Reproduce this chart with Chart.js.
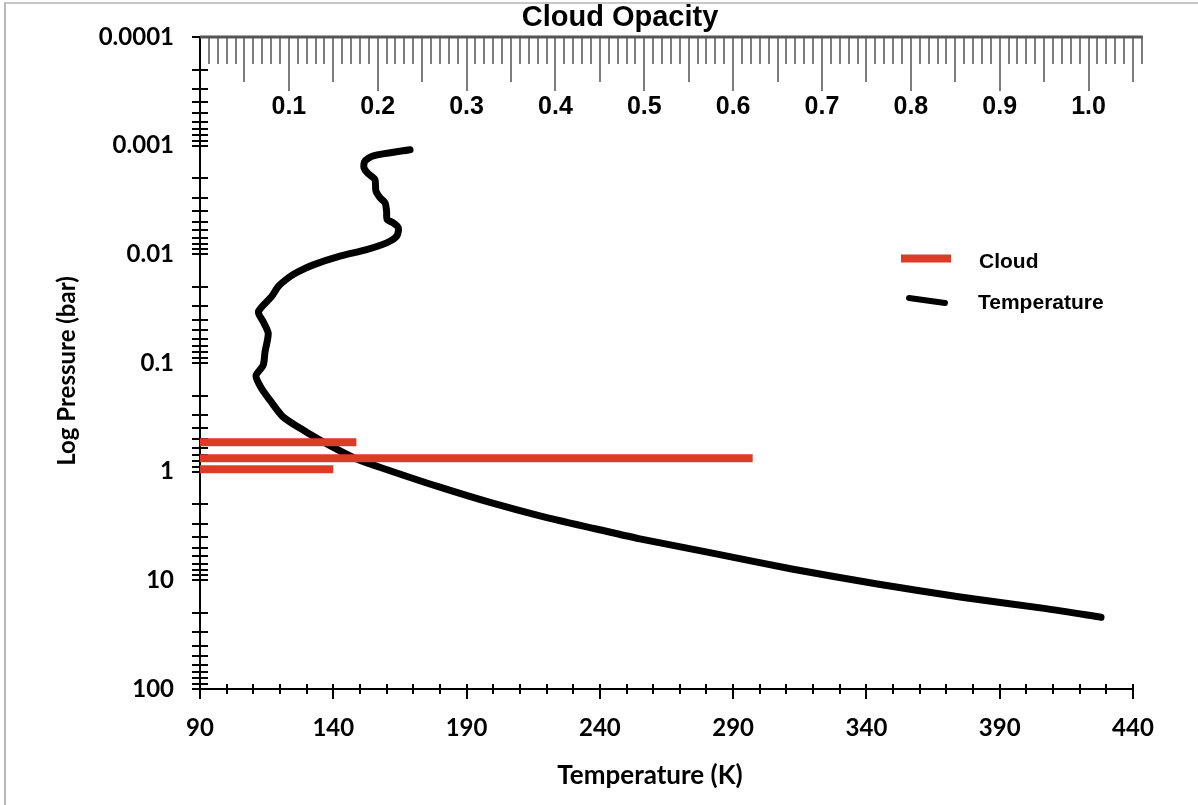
<!DOCTYPE html>
<html><head><meta charset="utf-8">
<script src="https://cdn.jsdelivr.net/npm/chart.js@4.4.1/dist/chart.umd.min.js"></script>
<style>
html,body{margin:0;padding:0;background:#fff;}
#wrap{position:relative;width:1198px;height:805px;overflow:hidden;background:#fff;}
#frame{position:absolute;left:4px;top:2px;right:-10px;bottom:-10px;border-top:2px solid #c8c8c8;border-left:2px solid #b8b8b8;pointer-events:none;}
canvas{position:absolute;left:0;top:0;}
</style></head><body>
<div id="wrap"><canvas id="c" width="1198" height="805"></canvas><div id="frame"></div></div>
<script>
// ---- Data ----
const temperatureK = [168.8,155,151.9,151.5,153.1,155.6,156,157.5,159.4,160,160.2,162.5,164.4,163.8,160,152.5,142.5,132.5,126.9,123.8,119.4,116.9,111.9,113.7,115.6,114.4,113.7,111,113.1,116.3,121.2,130,138.8,148.8,161.3,180,198.8,217.5,236.3,255,280.8,312.5,344.1,375.8,407.4,428];
const pressureBar = [0.00109,0.00124,0.00138,0.00159,0.00181,0.00204,0.00261,0.00301,0.00335,0.0040,0.00479,0.00513,0.0057,0.00681,0.00785,0.00906,0.0104,0.0125,0.0144,0.016,0.0197,0.0244,0.0337,0.0416,0.0533,0.0787,0.105,0.131,0.172,0.221,0.314,0.433,0.575,0.764,0.98,1.39,1.92,2.55,3.27,4.15,5.53,7.9,10.8,14.3,18.2,21.9];

const cloudPressure = [0.535, 0.753, 0.95];
const cloudOpacity  = [0.176, 0.622, 0.150];

const tempTicks = [90,140,190,240,290,340,390,440];
const tempLabels = ['90','140','190','240','290','340','390','440'];
const pressureTicks = [0.0001,0.001,0.01,0.1,1,10,100];
const pressureLabels = ['0.0001','0.001','0.01','0.1','1','10','100'];
const opacityTicks = [0.1,0.2,0.3,0.4,0.5,0.6,0.7,0.8,0.9,1.0];
const opacityLabels = ['0.1','0.2','0.3','0.4','0.5','0.6','0.7','0.8','0.9','1.0'];

const seriesNames = ['Cloud','Temperature'];
const axisTitles = { x: 'Temperature (K)', y: 'Log Pressure (bar)', top: 'Cloud Opacity' };
const CLOUD_COLOR = '#DC3B28';
const TEMP_COLOR = '#000000';

const calibriLike = 'Lato, "Open Sans", sans-serif';
const arialLike = '"Liberation Sans", Arial, sans-serif';

// ---- Datasets ----
const cloudDatasets = cloudPressure.map((p, i) => ({
  label: seriesNames[0],
  data: [{x: 0, y: p}, {x: cloudOpacity[i], y: p}],
  xAxisID: 'x2', yAxisID: 'y',
  borderColor: CLOUD_COLOR, borderWidth: 8, borderCapStyle: 'butt',
  pointRadius: 0, tension: 0, fill: false
}));
const tempDataset = {
  label: seriesNames[1],
  data: temperatureK.map((t, i) => ({x: t, y: pressureBar[i]})),
  xAxisID: 'x', yAxisID: 'y',
  borderColor: TEMP_COLOR, borderWidth: 7, borderCapStyle: 'round', borderJoinStyle: 'round',
  pointRadius: 0, tension: 0.25, fill: false
};

// ---- Plugins ----
function seg(ctx, x1, y1, x2, y2) { ctx.beginPath(); ctx.moveTo(x1, y1); ctx.lineTo(x2, y2); ctx.stroke(); }

const axisTicks = {
  id: 'axisTicks',
  beforeDatasetsDraw(chart) {
    const ctx = chart.ctx, a = chart.chartArea;
    const {x, y, x2} = chart.scales;
    ctx.save();
    ctx.lineCap = 'butt';
    // left log axis ticks (crossing the axis)
    ctx.strokeStyle = '#000'; ctx.lineWidth = 2;
    for (let d = -4; d <= 2; d++) {
      for (let m = 1; m <= 9; m++) {
        const v = m * Math.pow(10, d);
        if (v > 100 * 1.0001) break;
        const py = Math.round(y.getPixelForValue(v));
        seg(ctx, a.left - 8, py, a.left + 8, py);
      }
    }
    // bottom temperature ticks
    for (let t = 90; t <= 440; t += 10) {
      const px = Math.round(x.getPixelForValue(t));
      const major = (t - 90) % 50 === 0;
      seg(ctx, px, a.bottom - 5, px, a.bottom + (major ? 10 : 5));
    }
    // top opacity ticks hanging downwards
    ctx.strokeStyle = '#7d7d7d'; ctx.lineWidth = 2;
    for (let i = 1; i <= 106; i++) {
      const px = Math.round(x2.getPixelForValue(i / 100));
      const len = i % 10 === 0 ? 54 : (i % 5 === 0 ? 45 : 27);
      seg(ctx, px, a.top, px, a.top + len);
    }
    ctx.strokeStyle = '#555'; ctx.lineWidth = 3;
    seg(ctx, a.left, a.top, x2.getPixelForValue(1.06) + 1, a.top);
    ctx.restore();
  },
  afterDraw(chart) {
    const ctx = chart.ctx;
    ctx.save();
    ctx.fillStyle = '#000';
    ctx.textAlign = 'center'; ctx.textBaseline = 'middle';
    // axis titles
    ctx.font = 'bold 26px ' + calibriLike;
    ctx.fillText(axisTitles.x, 650, 776);
    ctx.save();
    ctx.translate(67, 371);
    ctx.rotate(-Math.PI / 2);
    ctx.font = 'bold 24px ' + calibriLike;
    ctx.fillText(axisTitles.y, 0, 0);
    ctx.restore();
    // legend
    ctx.lineCap = 'butt';
    ctx.strokeStyle = CLOUD_COLOR; ctx.lineWidth = 8;
    seg(ctx, 901, 258.5, 951, 258.5);
    ctx.lineCap = 'round';
    ctx.strokeStyle = TEMP_COLOR; ctx.lineWidth = 6;
    seg(ctx, 909, 298, 945, 303);
    ctx.font = 'bold 21px ' + arialLike;
    ctx.textAlign = 'left';
    ctx.fillText(seriesNames[0], 979, 262);
    ctx.fillText(seriesNames[1], 978, 303);
    ctx.restore();
  }
};

new Chart(document.getElementById('c'), {
  type: 'line',
  data: { datasets: [...cloudDatasets, tempDataset] },
  options: {
    responsive: false, animation: false, devicePixelRatio: 1,
    layout: { padding: { left: 42, right: 0, top: 0, bottom: 0 } },
    plugins: {
      legend: { display: false },
      tooltip: { enabled: false },
      title: {
        display: true, text: axisTitles.top, color: '#000',
        font: { family: arialLike, size: 29, weight: 'bold', lineHeight: 1.1 },
        padding: { top: 2, bottom: 0 }
      }
    },
    scales: {
      x: {
        type: 'linear', position: 'bottom', min: 90, max: 440,
        afterBuildTicks: s => { s.ticks = tempTicks.map(v => ({value: v})); },
        afterFit: s => { s.height = 116; },
        ticks: { callback: (v, i) => tempLabels[i], color: '#000', padding: 25,
                 font: { family: calibriLike, size: 24, weight: 'bold' }, maxRotation: 0, autoSkip: false },
        grid: { display: false, drawTicks: false },
        border: { display: true, color: '#000', width: 2 }
      },
      x2: {
        type: 'linear', position: 'top', min: 0, max: 1.05,
        afterBuildTicks: s => { s.ticks = opacityTicks.map(v => ({value: v})); },
        afterFit: s => { s.height = 37 - 2 - 29 * 1.1; },
        ticks: { callback: (v, i) => opacityLabels[i], color: '#000', mirror: true, padding: 55,
                 font: { family: arialLike, size: 25, weight: 'bold' }, maxRotation: 0, autoSkip: false },
        grid: { display: false, drawTicks: false },
        border: { display: false }
      },
      y: {
        type: 'logarithmic', position: 'left', min: 0.0001, max: 100, reverse: true,
        afterBuildTicks: s => { s.ticks = pressureTicks.map(v => ({value: v})); },
        afterFit: s => { s.width = 158; s.paddingTop = 0; s.paddingBottom = 0; },
        ticks: { callback: (v, i) => pressureLabels[i], color: '#000', padding: 26,
                 font: { family: calibriLike, size: 24, weight: 'bold' }, autoSkip: false },
        grid: { display: false, drawTicks: false },
        border: { display: true, color: '#000', width: 2 }
      },
      yR: {
        type: 'linear', position: 'right', display: true,
        afterFit: s => { s.width = 65; },
        ticks: { display: false },
        grid: { display: false, drawTicks: false },
        border: { display: false }
      }
    }
  },
  plugins: [axisTicks]
});
</script>
</body></html>
